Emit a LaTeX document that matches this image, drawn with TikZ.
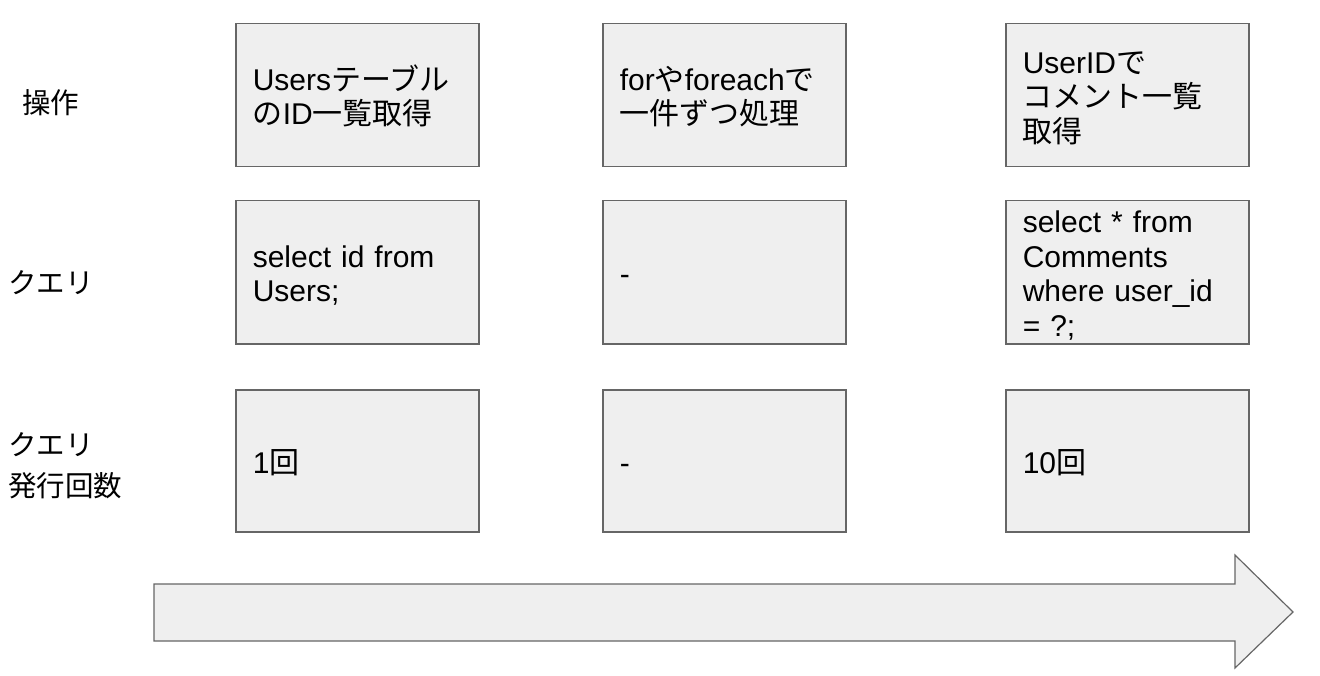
\documentclass[tikz,border=0pt]{standalone}
\usepackage{fontspec}
\setmainfont{Liberation Sans}
\newfontfamily\jpfont{Noto Sans CJK JP}
\newcommand\ja[1]{{\jpfont #1}}
\definecolor{boxfill}{HTML}{EFEFEF}
\definecolor{boxline}{HTML}{666666}
\begin{document}
\begin{tikzpicture}[x=1pt,y=-1pt,
  cell/.style={draw=boxline, fill=boxfill, line width=1.5pt,
    minimum width=243pt, minimum height=143pt, inner xsep=17pt, inner ysep=0pt,
    text width=209pt, align=left, font=\fontsize{30}{34.5}\selectfont, anchor=north west,
    execute at begin node={\rule{0pt}{29pt}},
    execute at end node={\rule[-4pt]{0pt}{4pt}}},
  rowlabel/.style={anchor=west, inner sep=0pt, align=left, font=\jpfont\fontsize{28.5}{41}\selectfont},
  arrowshape/.style={draw=boxline, fill=boxfill, line width=1.2pt, line join=miter}]
\useasboundingbox (0,0) rectangle (1320,676);

% row labels
\node[rowlabel] (l1) at (22,103) {操作};
\node[rowlabel] (l2) at (8,283) {クエリ};
\node[rowlabel] (l3) at (8,466) {クエリ\\発行回数};

% row 1
\node[cell] (a1) at (235,23) {Users\ja{テーブル}\\\ja{の}ID\ja{一覧取得}};
\node[cell] (b1) at (602,23) {for\ja{や}foreach\ja{で}\\\ja{一件ずつ処理}};
\node[cell] (c1) at (1005,23) {UserID\ja{で}\\\ja{コメント一覧}\\\ja{取得}};

% row 2
\node[cell] (a2) at (235,200) {select id from\\Users;};
\node[cell] (b2) at (602,200) {-};
\node[cell] (c2) at (1005,200) {select * from\\Comments\\where user\_id\\= ?;};

% row 3
\node[cell, minimum height=142pt] (a3) at (235,389) {1\ja{回}};
\node[cell, minimum height=142pt] (b3) at (602,389) {-};
\node[cell, minimum height=142pt] (c3) at (1005,389) {10\ja{回}};

% big arrow
\draw[arrowshape] (154,584) -- (1235,584) -- (1235,555) -- (1293,612) -- (1235,668) -- (1235,641) -- (154,641) -- cycle;
\end{tikzpicture}
\end{document}
